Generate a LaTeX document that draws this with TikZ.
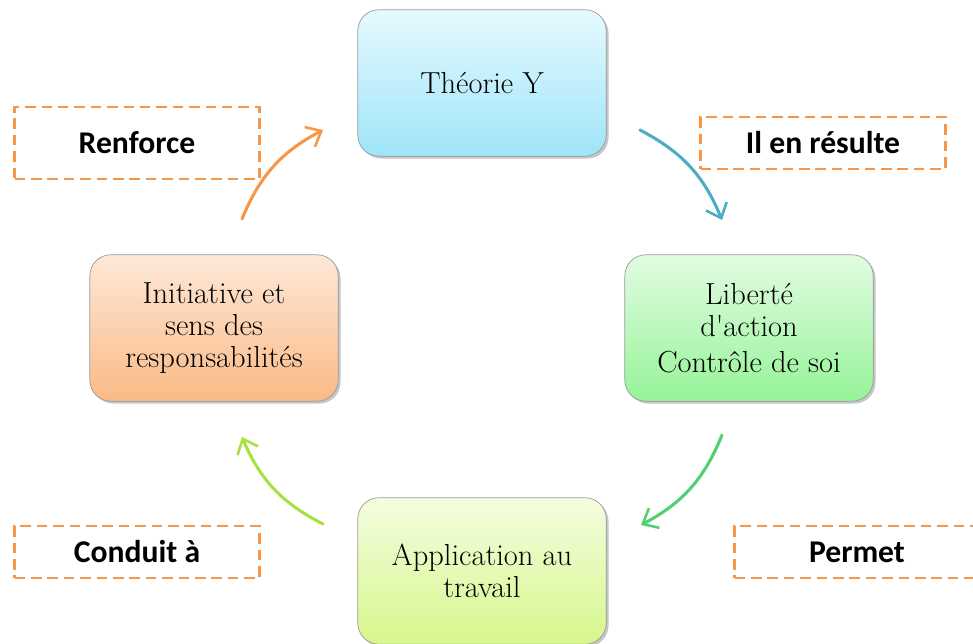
\documentclass[tikz,border=0pt]{standalone}
\usepackage{fontspec}
\newfontfamily\labelfont{Carlito}
\usetikzlibrary{arrows.meta, shadows}

\definecolor{bordure}{RGB}{247,150,70}
\definecolor{bleu}{RGB}{75,172,198}
\definecolor{vert}{RGB}{80,208,112}
\definecolor{vertclair}{RGB}{168,224,64}

\tikzset{
  etape/.style={draw=gray!80, line width=0.6pt, rounded corners=18pt,
    minimum width=212pt, minimum height=125pt, align=center,
    font=\fontsize{26}{27}\selectfont,
    drop shadow={shadow xshift=2pt, shadow yshift=-2pt, opacity=0.45}},
  lien/.style={draw=bordure, dashed, dash pattern=on 9pt off 5pt, line width=2pt,
    minimum width=209pt, minimum height=44pt, font=\labelfont\bfseries\fontsize{27}{27}\selectfont},
  fleche/.style={line width=2.6pt, line cap=round, -{Straight Barb[length=11pt, width=19pt, line width=2.2pt]}, bend left=20}
}

\begin{document}
\begin{tikzpicture}[x=0.03cm, y=0.03cm]%1 unite = 1 pixel

\useasboundingbox (0,0) rectangle (973,-644);%cadre

	\node [etape, top color={rgb,255:red,230;green,250;blue,255}, bottom color={rgb,255:red,158;green,228;blue,248}] (theorie) at (482,-83) {Théorie Y};%haut
	\node [etape, top color={rgb,255:red,226;green,252;blue,226}, bottom color={rgb,255:red,150;green,244;blue,152}] (liberte) at (749,-328) {Liberté\\d\textquotesingle action\\[4pt]Contrôle de soi};%droite
	\node [etape, top color={rgb,255:red,244;green,253;blue,224}, bottom color={rgb,255:red,214;green,247;blue,140}] (application) at (482,-571) {Application au\\travail};%bas
	\node [etape, top color={rgb,255:red,253;green,232;blue,216}, bottom color={rgb,255:red,251;green,186;blue,134}] (initiative) at (214,-328) {Initiative et\\sens des\\responsabilités};%gauche

	\node [lien, minimum height=62pt] (renforce) at (137,-143) {Renforce};
	\node [lien] (resulte) at (823,-143) {Il en résulte};
	\node [lien] (conduit) at (137,-552) {Conduit à};
	\node [lien] (permet) at (857,-552) {Permet};

	\coordinate (b1) at (640,-130);
	\coordinate (b2) at (722,-220);
	\coordinate (v1) at (722,-435);
	\coordinate (v2) at (641,-525);
	\coordinate (c1) at (323,-524);
	\coordinate (c2) at (242,-437);
	\coordinate (o1) at (242,-219);
	\coordinate (o2) at (323,-130);

	\draw [fleche, bleu] (b1) to (b2);%il en resulte
	\draw [fleche, vert] (v1) to (v2);%permet
	\draw [fleche, vertclair] (c1) to (c2);%conduit a
	\draw [fleche, bordure] (o1) to (o2);%renforce
\end{tikzpicture}
\end{document}
